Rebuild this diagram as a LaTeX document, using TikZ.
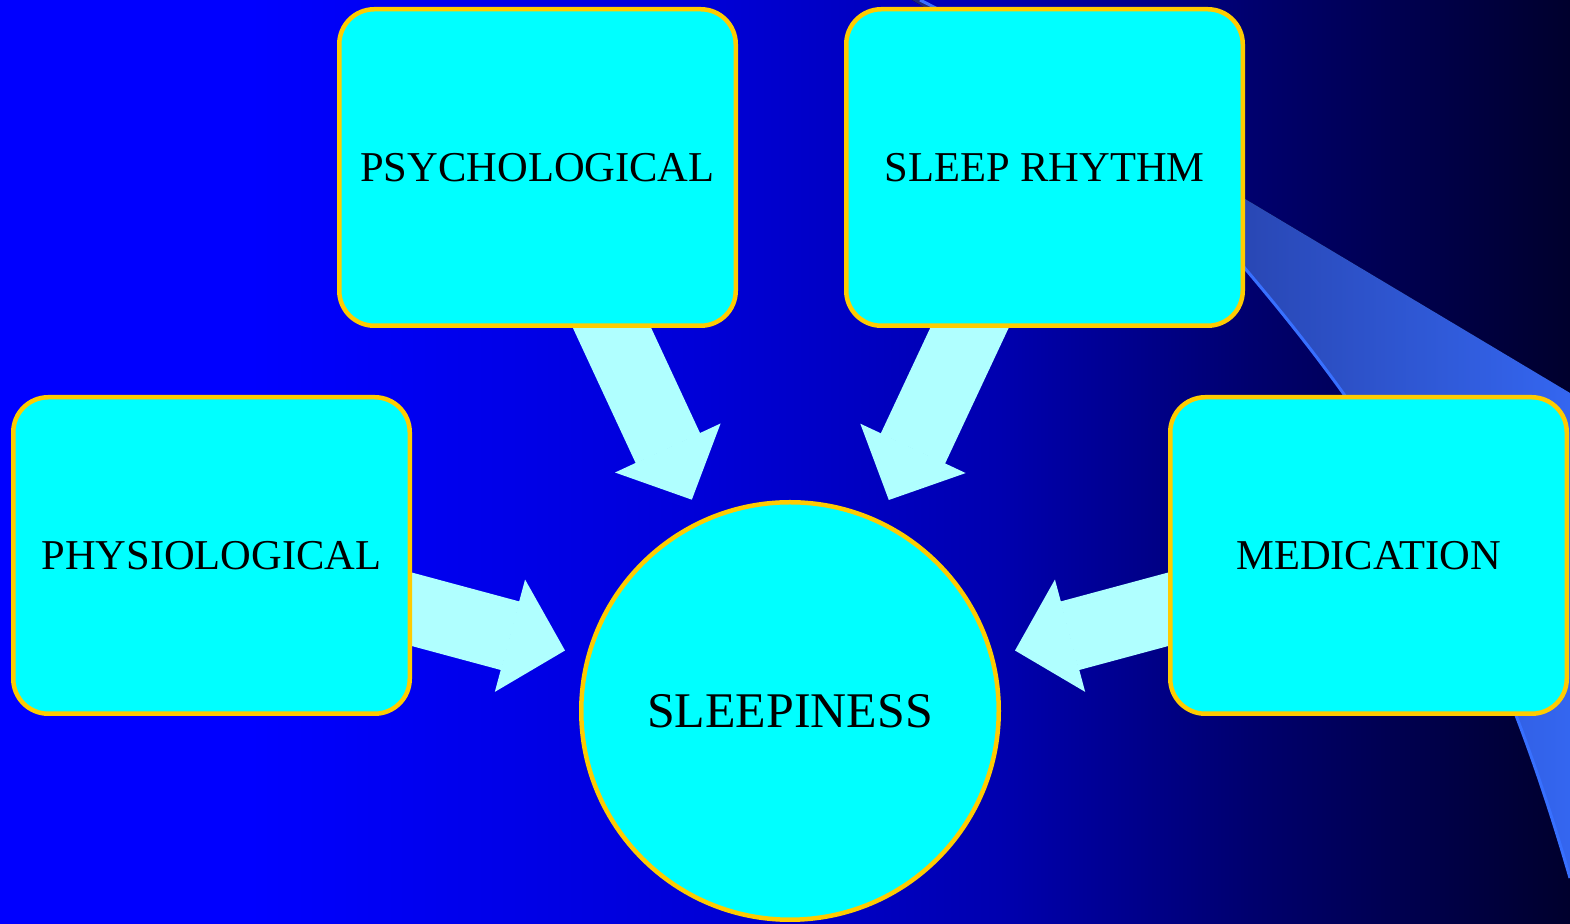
\documentclass[tikz,border=0pt]{standalone}
\usepackage{fontspec}
\setmainfont{Liberation Serif}
\usetikzlibrary{arrows.meta, backgrounds}

\definecolor{gold}{RGB}{255,204,0}
\definecolor{aqua}{RGB}{0,255,255}
\definecolor{paleaqua}{RGB}{176,255,255}
\definecolor{swooshedge}{RGB}{56,112,255}
\definecolor{swooshdark}{RGB}{30,40,120}
\definecolor{swooshlight}{RGB}{52,102,240}

% slide background, blue fading to near black
\pgfdeclarehorizontalshading{slidebg}{100bp}{rgb(0bp)=(0,0,1); rgb(25bp)=(0,0,1);
  rgb(32.96bp)=(0,0,1); rgb(47.29bp)=(0,0,0.843); rgb(56.85bp)=(0,0,0.686);
  rgb(64.81bp)=(0,0,0.431); rgb(75bp)=(0,0,0.176); rgb(100bp)=(0,0,0.176)}

\begin{document}
\begin{tikzpicture}[
            box/.style = {draw=gold, fill=aqua, line width=0.045cm,
            rounded corners=0.35cm, minimum width=3.965cm,
            minimum height=3.165cm, inner sep=0pt,
            font=\fontsize{12.1pt}{14pt}\selectfont}, % factor boxes
            hub/.style = {draw=gold, fill=aqua, line width=0.045cm,
            circle, minimum size=4.175cm, inner sep=0pt,
            font=\fontsize{14.2pt}{17pt}\selectfont}, % centre circle
            bigarrow/.style = {color=paleaqua, line width=0.71cm,
            -{Triangle[width=1.16cm, length=0.57cm, line width=0.02cm]},
            shorten < = -0.5cm, shorten > = 0.22cm} % block arrows
            ]
            \useasboundingbox (0,0) rectangle (15.70,9.24);
            \begin{pgfonlayer}{background}
            \fill[shading=slidebg] (0,0) rectangle (15.70,9.24);
            \fill[left color=swooshdark, right color=swooshlight]
            (9.12,9.24) -- (15.70,5.31) -- (15.70,0.46)
            .. controls (14.90,3.24) and (13.90,4.84) .. (12.48,6.52)
            .. controls (11.80,7.34) and (10.80,8.44) .. (9.20,9.24) -- cycle;
            \draw[swooshedge, line width=0.03cm] (15.70,0.46)
            .. controls (14.90,3.24) and (13.90,4.84) .. (12.48,6.52)
            .. controls (11.80,7.34) and (10.80,8.44) .. (9.20,9.24);
            \end{pgfonlayer}

            \node[box] (1) at (2.115,3.685) {PHYSIOLOGICAL};
            \node[box] (2) at (5.375,7.565) {PSYCHOLOGICAL};
            \node[box] (3) at (10.445,7.565) {SLEEP RHYTHM};
            \node[box] (4) at (13.685,3.685) {MEDICATION};
            \node[hub] (5) at (7.90,2.13) {SLEEPINESS};

            \begin{pgfonlayer}{background}
            \path[bigarrow] (1) edge (5);
            \path[bigarrow] (2) edge (5);
            \path[bigarrow] (3) edge (5);
            \path[bigarrow] (4) edge (5);
            \end{pgfonlayer}
        \end{tikzpicture}
\end{document}
